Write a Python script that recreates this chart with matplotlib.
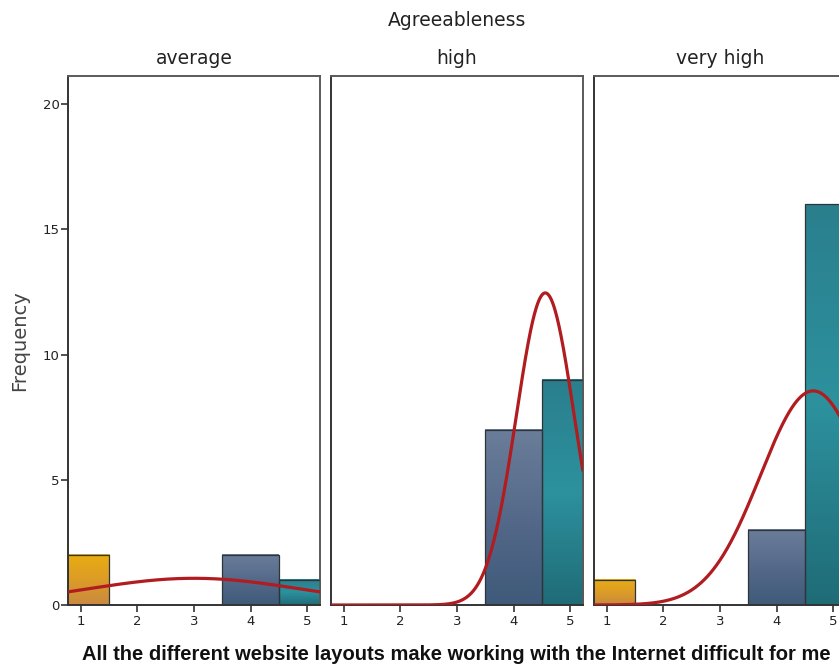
import matplotlib
matplotlib.use("Agg")
import matplotlib.pyplot as plt
import numpy as np
from matplotlib.colors import LinearSegmentedColormap

# data
panels = ["average", "high", "very high"]
categories = [1, 2, 3, 4, 5]
counts = {
    "average": [2, 0, 0, 2, 1],
    "high": [0, 0, 0, 7, 9],
    "very high": [1, 0, 0, 3, 16],
}
yticks = [0, 5, 10, 15, 20]
xlabel = "All the different website layouts make working with the Internet difficult for me"

# gradient colours per category (top, middle, bottom)
bar_colors = {
    1: ["#e8ad12", "#dc9c26", "#c98a40"],
    2: ["#8a9a5a", "#7a8a50", "#6a7a48"],
    3: ["#8a9a5a", "#7a8a50", "#6a7a48"],
    4: ["#6a7e9a", "#55698a", "#3f5a7a"],
    5: ["#2a7f8d", "#2d919e", "#1f6c77"],
}
curve_color = "#b01c1f"
frame_color = "#5a5a5a"

plt.rcParams['font.family'] = ['DejaVu Sans']

fig = plt.figure(figsize=(8.39, 6.69), dpi=100)

W, H = 839.0, 669.0
lefts = [68, 331, 594]
pw = 252
y_top, y_bot = 76, 605
ymax = (y_bot - y_top) / 25.05
xlim = (0.77, 5.23)


def gradient_bar(ax, x, h, cols):
    bar = ax.bar(x, h, width=1.0, color="none", edgecolor="#2f3438",
                 linewidth=0.9, zorder=3)[0]
    cmap = LinearSegmentedColormap.from_list("g", cols[::-1])
    grad = np.linspace(0, 1, 100).reshape(-1, 1)
    x0 = max(x - 0.5, xlim[0])
    x1 = min(x + 0.5, xlim[1])
    ax.imshow(grad, extent=(x0, x1, 0, h), origin="lower",
              cmap=cmap, aspect="auto", zorder=2)


for i, name in enumerate(panels):
    ax = fig.add_axes([lefts[i] / W, (H - y_bot) / H, pw / W, (y_bot - y_top) / H])
    vals = counts[name]
    for c, v in zip(categories, vals):
        if v > 0:
            gradient_bar(ax, c, v, bar_colors[c])

    # normal curve from the raw scores
    data = np.repeat(categories, vals)
    n = len(data)
    mu = data.mean()
    sd = data.std(ddof=1)
    xs = np.linspace(xlim[0], xlim[1], 400)
    ys = n * 1.0 / (sd * np.sqrt(2 * np.pi)) * np.exp(-0.5 * ((xs - mu) / sd) ** 2)
    ax.plot(xs, ys, color=curve_color, lw=2.3, zorder=4, solid_capstyle="butt")

    ax.set_xlim(*xlim)
    ax.set_ylim(0, ymax)
    ax.set_xticks(categories)
    ax.set_xticklabels([str(c) for c in categories], fontsize=9.5, color="#222222")
    ax.tick_params(axis="x", direction="out", length=5, width=1.2,
                   color="#333333", pad=2)
    if i == 0:
        ax.set_yticks(yticks)
        ax.set_yticklabels([str(t) for t in yticks], fontsize=9.5, color="#222222")
        ax.tick_params(axis="y", direction="out", length=5, width=1.2,
                       color="#333333", pad=1)
    else:
        ax.set_yticks([])
    for s in ax.spines.values():
        s.set_color(frame_color)
        s.set_linewidth(1.4)
    ax.spines["bottom"].set_color("#333333")
    ax.spines["left"].set_color("#333333")
    fig.text((lefts[i] + 126) / W, 1 - 59 / H, name, ha="center", va="center",
             fontsize=13.5, color="#222222")

fig.text(457 / W, 1 - 20 / H, "Agreeableness", ha="center", va="center",
         fontsize=13.5, color="#222222")
fig.text(20 / W, 1 - 341 / H, "Frequency", ha="center", va="center",
         rotation=90, fontsize=14, color="#444444")
fig.text(456 / W, 1 - 655 / H, xlabel, ha="center", va="center",
         fontsize=14.5, fontweight="bold", family=["Liberation Sans", "DejaVu Sans"],
         color="#111111")

fig.savefig("out.png", dpi=100)
